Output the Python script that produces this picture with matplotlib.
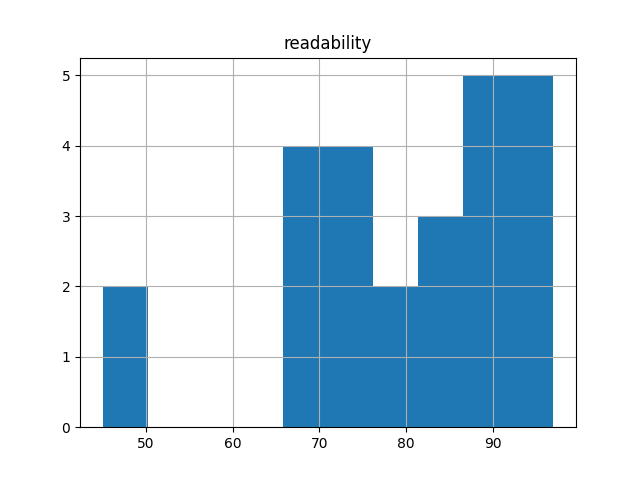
import matplotlib
matplotlib.use("Agg")
import matplotlib.pyplot as plt
import pandas as pd

# readability scores (estimated from the histogram)
readability = [45, 48,
               66, 68, 69, 70,
               72, 73, 75, 76,
               78, 80,
               82, 84, 86,
               87, 88, 90, 91, 91,
               92, 93, 95, 96, 97]

df = pd.DataFrame({"readability": readability})

fig = plt.figure(figsize=(6.4, 4.8), dpi=100)
ax = fig.add_subplot(111)
df.hist(column="readability", bins=10, ax=ax)
plt.savefig("out.png")
